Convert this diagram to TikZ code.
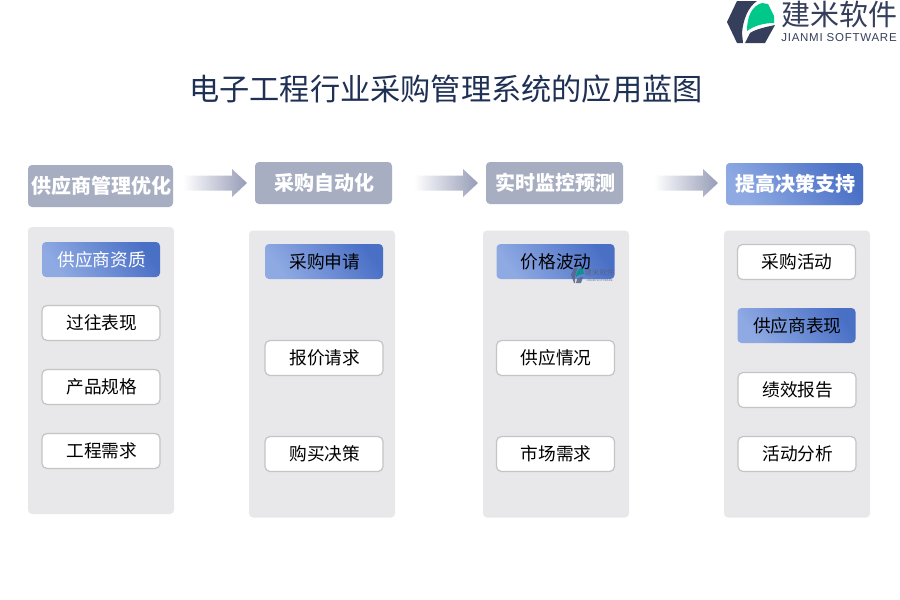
\documentclass[tikz,border=0pt]{standalone}
\usepackage{fontspec}
\setmainfont{Noto Sans CJK SC}
\newfontfamily\latinlogo[LetterSpace=6.5]{Liberation Sans}
\definecolor{panelc}{HTML}{E8E8EA}
\definecolor{headc}{HTML}{A7AEC2}
\definecolor{bluel}{HTML}{8FAAE3}
\definecolor{blued}{HTML}{4A70C6}
\definecolor{arrowc}{HTML}{959CB6}
\definecolor{titlec}{HTML}{1F3055}
\definecolor{logod}{HTML}{353F5C}
\definecolor{logog}{HTML}{00C78A}
\definecolor{edgec}{HTML}{C4C4C6}
\definecolor{wmark}{HTML}{56648A}
\tikzset{
 panel/.style={fill=panelc,rounded corners=4pt,minimum width=146pt,minimum height=287pt,inner sep=0pt},
 headbox/.style={fill=headc,rounded corners=4pt,minimum width=137pt,minimum height=42pt,inner sep=0pt,text=white,font=\fontsize{20}{24}\selectfont\bfseries,execute at begin node={\hspace*{2pt}}},
 headblue/.style={headbox,left color=bluel,right color=blued,shading angle=125},
 itemw/.style={fill=white,draw=edgec,line width=1.2pt,rounded corners=5pt,minimum width=118pt,minimum height=35pt,inner sep=0pt,text=black,font=\fontsize{17.7}{21}\selectfont,execute at begin node={\hspace*{1.5pt}}},
 itemb/.style={rounded corners=4pt,left color=bluel,right color=blued,shading angle=125,minimum width=118pt,minimum height=35pt,inner sep=0pt,text=black,font=\fontsize{17.7}{21}\selectfont,execute at begin node={\hspace*{1.5pt}}},
 flowarrow/.style={left color=white,middle color=arrowc!40!white,right color=arrowc}
}
\begin{document}
\begin{tikzpicture}[x=1pt,y=-1pt]
\useasboundingbox (0,0) rectangle (900,600);
\fill[white] (0,0) rectangle (900,600);
% logo
\fill[logod] (727,22) -- (737,1) -- (757,1) .. controls (748,7) and (743,20) .. (742,33) -- (743,43) -- (737,43) -- cycle;
\fill[logod] (745,43) -- (750,33) .. controls (756,29) and (766,27) .. (775,25) -- (765,43) -- cycle;
\fill[logog] (747,31) .. controls (747,16) and (752,6) .. (762,3) -- (768,4) -- (774,16) -- (774,23) .. controls (763,23) and (754,26) .. (747,31) -- cycle;
\node[inner sep=0pt,text=logod,font=\fontsize{29}{32}\selectfont] (logocn) at (839.5,14) {建米软件};
\node[inner sep=0pt,text=logod,font=\latinlogo\fontsize{11.5}{13}\selectfont] (logoen) at (839,38) {JIANMI SOFTWARE};
% title
\node[inner sep=0pt,text=titlec,font=\fontsize{30.2}{36}\selectfont] (title) at (446,89) {电子工程行业采购管理系统的应用蓝图};
% panels
\node[panel] (p1) at (101,370.5) {};
\node[panel] (p2) at (322,374) {};
\node[panel] (p3) at (556,374) {};
\node[panel] (p4) at (797,374) {};
% headers
\node[headbox,minimum width=145pt] (h1) at (100.5,186) {供应商管理优化};
\node[headbox] (h2) at (323.5,183) {采购自动化};
\node[headbox] (h3) at (554.5,183) {实时监控预测};
\node[headblue] (h4) at (794.5,184) {提高决策支持};
% arrows
\coordinate (a1) at (215,183);
\coordinate (a2) at (446,183);
\coordinate (a3) at (686,183);
\foreach \a in {a1,a2,a3}
  \shade[flowarrow,shift={(\a)}] (-32,-7.5) -- (17,-7.5) -- (17,-14) -- (32,0) -- (17,14) -- (17,7.5) -- (-32,7.5) -- cycle;
% column 1
\node[itemb,text=white] (c1a) at (101,259.5) {供应商资质};
\node[itemw] (c1b) at (101,323) {过往表现};
\node[itemw] (c1c) at (101,387) {产品规格};
\node[itemw] (c1d) at (101,451) {工程需求};
% column 2
\node[itemb] (c2a) at (324,261.5) {采购申请};
\node[itemw] (c2b) at (324,358) {报价请求};
\node[itemw] (c2c) at (324,454) {购买决策};
% column 3
\node[itemb] (c3a) at (555.5,261.5) {价格波动};
\node[itemw] (c3b) at (555.5,358) {供应情况};
\node[itemw] (c3c) at (555.5,454) {市场需求};
% column 4
\node[itemw] (c4a) at (796.5,262) {采购活动};
\node[itemb] (c4b) at (796.5,325.5) {供应商表现};
\node[itemw] (c4c) at (797,390) {绩效报告};
\node[itemw] (c4d) at (797,454) {活动分析};
% watermark
\fill[wmark,opacity=.85] (571,275) -- (574,268) -- (578,268) .. controls (576,271) and (575,275) .. (575,283) -- (574,283) -- cycle;
\fill[wmark,opacity=.85] (576,283) -- (577,279) .. controls (578,278) and (581,277) .. (583,277) -- (581,283) -- cycle;
\fill[teal!70!logog,opacity=.85] (576,277) .. controls (576,272) and (578,269) .. (581,268) -- (583,269) -- (584,274) .. controls (581,274) and (578,275) .. (576,277) -- cycle;
\node[inner sep=0pt,text=wmark,font=\fontsize{7.4}{9}\selectfont] (wmcn) at (599.5,272.5) {建米软件};
\node[inner sep=0pt,text=wmark,font=\latinlogo\fontsize{2.6}{3}\selectfont] (wmen) at (599.5,280.5) {JIANMI SOFTWARE};
\end{tikzpicture}
\end{document}
